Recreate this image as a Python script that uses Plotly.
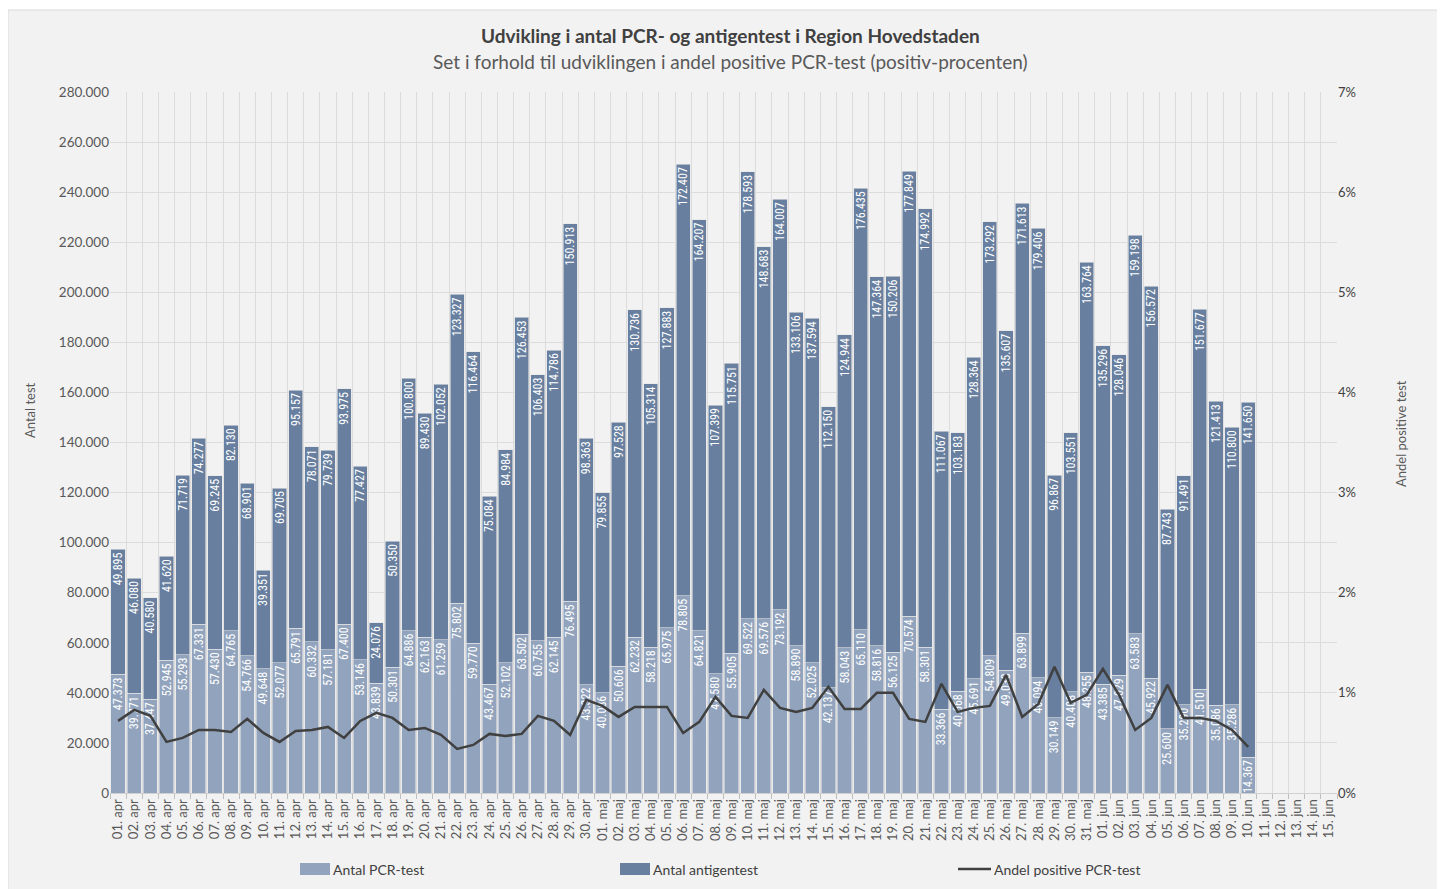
import plotly.graph_objects as go

# ---------------- data ----------------
categories = ([f"{d:02d}. apr" for d in range(1, 31)]
              + [f"{d:02d}. maj" for d in range(1, 32)]
              + [f"{d:02d}. jun" for d in range(1, 16)])

pcr_tests = [
    47373, 39771, 37447, 52945, 55293, 67331, 57430, 64765, 54766, 49648,
    52077, 65791, 60332, 57181, 67400, 53146, 43839, 50301, 64886, 62163,
    61259, 75802, 59770, 43467, 52102, 63502, 60755, 62145, 76495, 43322,
    40086, 50606, 62232, 58218, 65975, 78805, 64821, 47580, 55905, 69522,
    69576, 73192, 58890, 52025, 42137, 58043, 65110, 58816, 56125, 70574,
    58301, 33366, 40668, 45691, 54809, 49038, 63899, 46094, 30149, 40408,
    48255, 43385, 47029, 63583, 45922, 25600, 35290, 41510, 35086, 35286,
    14367,
]

antigen_tests = [
    49895, 46080, 40580, 41620, 71719, 74277, 69245, 82130, 68901, 39351,
    69705, 95157, 78071, 79739, 93975, 77427, 24076, 50350, 100800, 89430,
    102052, 123327, 116464, 75084, 84984, 126453, 106403, 114786, 150913, 98363,
    79855, 97528, 130736, 105314, 127883, 172407, 164207, 107399, 115751, 178593,
    148683, 164007, 133106, 137594, 112150, 124944, 176435, 147364, 150206, 177849,
    174992, 111067, 103183, 128364, 173292, 135607, 171613, 179406, 96867, 103551,
    163764, 135296, 128046, 159198, 156572, 87743, 91491, 151677, 121413, 110800,
    141650,
]

positive_pct = [
    0.0072, 0.0083, 0.0077, 0.0051, 0.0055, 0.0063, 0.0063, 0.0061, 0.0074, 0.0060,
    0.0051, 0.0062, 0.0063, 0.0066, 0.0055, 0.0072, 0.0080, 0.0075, 0.0063, 0.0065,
    0.0058, 0.0044, 0.0048, 0.0059, 0.0057, 0.0059, 0.0077, 0.0072, 0.0058, 0.0093,
    0.0087, 0.0076, 0.0086, 0.0086, 0.0086, 0.0060, 0.0071, 0.0096, 0.0077, 0.0075,
    0.0103, 0.0085, 0.0081, 0.0085, 0.0106, 0.0084, 0.0084, 0.0100, 0.0100, 0.0074,
    0.0071, 0.0109, 0.0081, 0.0085, 0.0087, 0.0118, 0.0076, 0.0089, 0.0126, 0.0090,
    0.0098, 0.0124, 0.0098, 0.0063, 0.0075, 0.0108, 0.0075, 0.0075, 0.0072, 0.0063,
    0.0046,
]

series_names = ["Antal PCR-test", "Antal antigentest", "Andel positive PCR-test"]

n = len(pcr_tests)
x_data = categories[:n]

# ---------------- styling ----------------
C_PCR = "#92a4bd"
C_AG = "#687f9f"
C_LINE = "#404040"
C_GRID = "#dcdcdc"
C_TXT = "#595959"
LABEL_FONT = "Liberation Sans Narrow, Roboto Condensed, Open Sans, sans-serif"
MAIN_FONT = "Lato, Open Sans, sans-serif"

fig = go.Figure()

for vals, col, name in [(pcr_tests, C_PCR, series_names[0]),
                        (antigen_tests, C_AG, series_names[1])]:
    fig.add_trace(go.Bar(
        x=x_data, y=vals, name=name,
        marker=dict(color=col, line=dict(color="#e4e4e4", width=0.6)),
        texttemplate="%{y:,d}", textposition="inside", insidetextanchor="end",
        textangle=-90, constraintext="none",
        textfont=dict(color="white", size=12, family=LABEL_FONT),
        hovertemplate="%{x}: %{y:,d}<extra>" + name + "</extra>",
    ))

fig.add_trace(go.Scatter(
    x=x_data, y=positive_pct, name=series_names[2],
    mode="lines", yaxis="y2",
    line=dict(color=C_LINE, width=2.5),
    hovertemplate="%{x}: %{y:.2%}<extra></extra>",
))

# figure coordinates (page coords minus 8px body margin)
W, H = 1445, 889
L, R, T, B = 102, 116, 84, 104
PW, PH = W - L - R, H - T - B


def px(x):
    return (x - L) / PW


def py(y):
    return (H - B - y) / PH


shapes = [
    dict(type="rect", xref="paper", yref="paper", layer="below",
         x0=px(0), x1=px(1432), y0=py(885), y1=py(2),
         fillcolor="#f2f2f2", line=dict(color="#d9d9d9", width=1)),
]
annotations = [
    dict(text="<b>Udvikling i antal PCR- og antigentest i Region Hovedstaden</b>",
         xref="paper", yref="paper", x=px(723), y=py(27),
         xanchor="center", yanchor="middle", showarrow=False,
         font=dict(size=19, color="#404040", family=MAIN_FONT)),
    dict(text="Set i forhold til udviklingen i andel positive PCR-test (positiv-procenten)",
         xref="paper", yref="paper", x=px(723), y=py(53),
         xanchor="center", yanchor="middle", showarrow=False,
         font=dict(size=19, color=C_TXT, family=MAIN_FONT)),
    dict(text="Antal test", textangle=-90,
         xref="paper", yref="paper", x=px(22), y=py(402),
         xanchor="center", yanchor="middle", showarrow=False,
         font=dict(size=13, color=C_TXT, family=MAIN_FONT)),
    dict(text="Andel positive test", textangle=-90,
         xref="paper", yref="paper", x=px(1393), y=py(426),
         xanchor="center", yanchor="middle", showarrow=False,
         font=dict(size=13, color=C_TXT, family=MAIN_FONT)),
]

# custom legend (swatch + label), positioned like the reference
LEG_Y = 861
legend_items = [(292, 322, C_PCR, "bar", series_names[0]),
                (612, 642, C_AG, "bar", series_names[1]),
                (950, 983, C_LINE, "line", series_names[2])]
for x0, x1, col, kind, name in legend_items:
    if kind == "bar":
        shapes.append(dict(type="rect", xref="paper", yref="paper",
                           x0=px(x0), x1=px(x1), y0=py(LEG_Y + 6), y1=py(LEG_Y - 6),
                           fillcolor=col, line=dict(width=0)))
    else:
        shapes.append(dict(type="line", xref="paper", yref="paper",
                           x0=px(x0), x1=px(x1), y0=py(LEG_Y), y1=py(LEG_Y),
                           line=dict(color=col, width=2.5)))
    annotations.append(dict(text=name, xref="paper", yref="paper",
                            x=px(x1 + 1), y=py(LEG_Y), xanchor="left", yanchor="middle",
                            showarrow=False,
                            font=dict(size=14, color="#404040", family=MAIN_FONT)))

fig.update_layout(
    width=W, height=H,
    margin=dict(l=L, r=R, t=T, b=B),
    paper_bgcolor="white",
    plot_bgcolor="#f2f2f2",
    separators=",.",
    barmode="stack",
    bargap=0.12,
    font=dict(family=MAIN_FONT, color=C_TXT, size=12),
    showlegend=False,
    xaxis=dict(
        type="category", categoryorder="array", categoryarray=categories,
        range=[-0.5, len(categories) - 0.5],
        tickson="boundaries", showgrid=True, gridcolor=C_GRID, gridwidth=1,
        ticks="outside", ticklen=5, tickcolor="#bfbfbf",
        tickangle=-90, tickfont=dict(size=13, color=C_TXT, family=MAIN_FONT),
        showline=True, linecolor="#d0d0d0", zeroline=False,
    ),
    yaxis=dict(
        range=[0, 280000], dtick=20000, tickformat=",d",
        showgrid=True, gridcolor=C_GRID, gridwidth=1, zeroline=False,
        tickfont=dict(size=13.5, color=C_TXT, family=MAIN_FONT),
        ticks="", showline=False,
    ),
    yaxis2=dict(
        overlaying="y", side="right", range=[0, 0.07], dtick=0.01,
        tickformat=".0%", showgrid=False, zeroline=False,
        tickfont=dict(size=13, color="#404040", family=MAIN_FONT),
        ticks="", showline=False,
    ),
    shapes=shapes,
    annotations=annotations,
)

fig.write_html("out.html")
